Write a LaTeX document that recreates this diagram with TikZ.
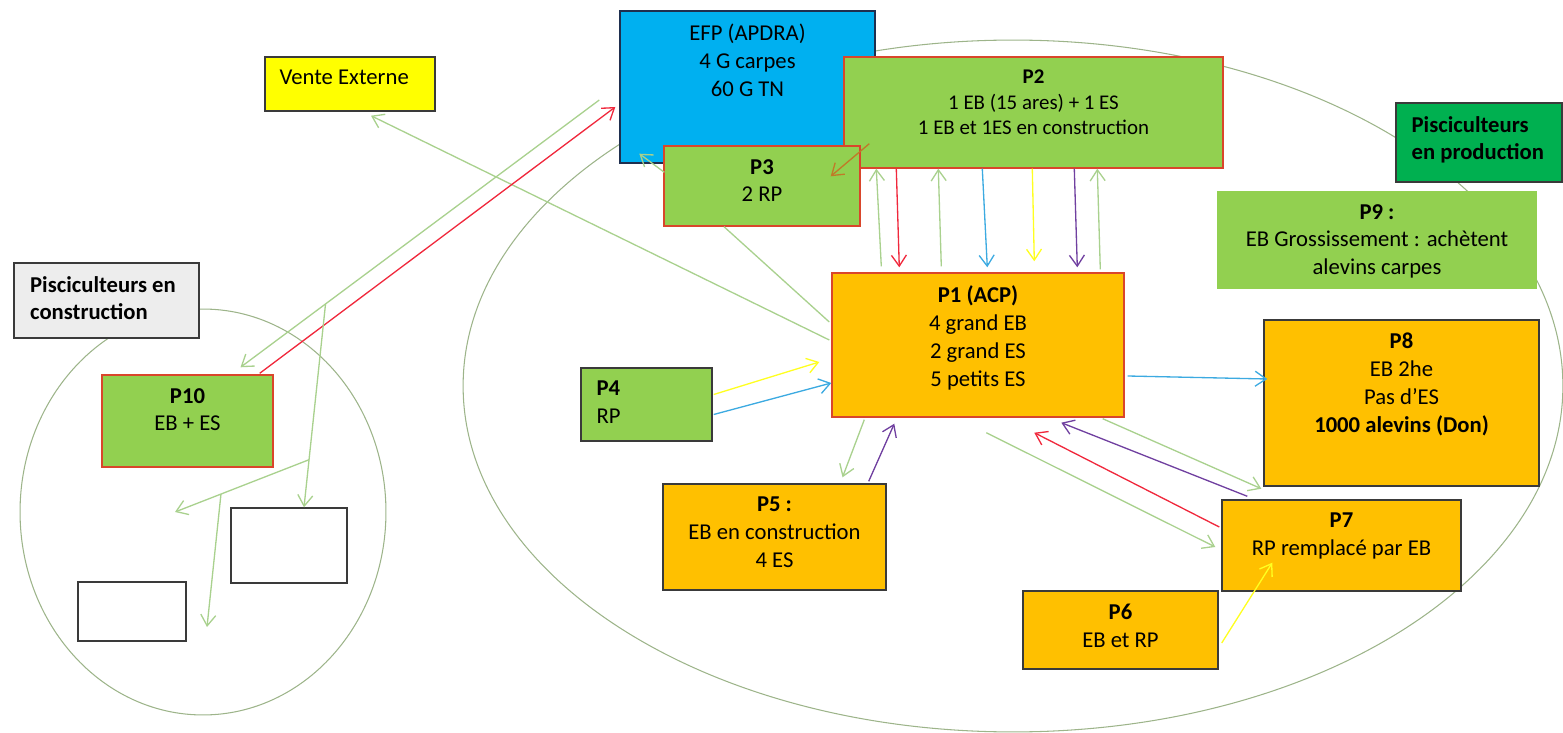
\documentclass[tikz,border=0pt]{standalone}
\usepackage{fontspec}
\setmainfont{Carlito}
\usepackage{tikz}
\usetikzlibrary{positioning, fit, calc, arrows.meta}

\definecolor{boxgreen}{HTML}{92D050}
\definecolor{boxblue}{HTML}{00B0F0}
\definecolor{boxorange}{HTML}{FFC000}
\definecolor{boxdkgreen}{HTML}{00B050}
\definecolor{boxyellow}{HTML}{FFFF00}
\definecolor{boxgray}{HTML}{EDEDED}
\definecolor{edgered}{HTML}{D9462B}
\definecolor{edgedark}{HTML}{3A3A3A}
\definecolor{edgenavy}{HTML}{1F2F4F}
\definecolor{lgreen}{HTML}{A9D18E}
\definecolor{lred}{HTML}{F0283C}
\definecolor{lblue}{HTML}{3CAAE1}
\definecolor{lyellow}{HTML}{FFFF20}
\definecolor{lpurple}{HTML}{7040A0}
\definecolor{lbrown}{HTML}{C07A28}
\definecolor{zone}{HTML}{9DB48A}

\tikzstyle{box} = [rectangle, inner sep=0pt, line width=0.8pt, draw=edgedark]
\tikzstyle{gbox} = [box, draw=edgered, fill=boxgreen]
\tikzstyle{obox} = [box, fill=boxorange]
\tikzstyle{txt} = [align=center, inner sep=0pt, font=\fontsize{12.9}{15.9}\selectfont]
\tikzstyle{arrow} = [line width=0.75pt, ->, >={Straight Barb[length=2.2mm, width=3mm]}]
\tikzstyle{garrow} = [arrow, lgreen]
\tikzstyle{rarrow} = [arrow, lred]
\tikzstyle{barrow} = [arrow, lblue]
\tikzstyle{yarrow} = [arrow, lyellow]
\tikzstyle{parrow} = [arrow, lpurple]
\tikzstyle{brarrow} = [arrow, lbrown]
\tikzstyle{gline} = [line width=0.75pt, lgreen]
\def\ttop{0.27cm}

\begin{document}
\begin{tikzpicture}[x=0.02cm, y=-0.02cm]
\useasboundingbox (0,0) rectangle (1563,733);

% groups
\draw [zone, line width=0.6pt] (203,512) ellipse [x radius=3.66cm, y radius=4.06cm];
\draw [zone, line width=0.6pt] (1013,386) ellipse [x radius=11cm, y radius=6.92cm];

\node (vente) [box, fill=boxyellow, fit={(265,57) (435,111)}] {};
\node (efp) [box, draw=edgenavy, fill=boxblue, fit={(620,11) (875,163)}] {};
\node (p2) [gbox, fit={(844,57) (1223,168)}] {};
\node (p3) [gbox, fit={(664,146) (860,226)}] {};
\node (prod) [box, fill=boxdkgreen, fit={(1396,103) (1562,182)}] {};
\node (p9) [box, draw=none, fill=boxgreen, fit={(1217,191) (1537,289)}] {};
\node (constr) [box, fill=boxgray, fit={(14,263) (199,338)}] {};
\node (p10) [gbox, fit={(102,375) (273,467)}] {};
\node (cnew1) [box, fill=white, fit={(231,508) (347,583)}] {};
\node (cnew2) [box, fill=white, fit={(78,582) (186,641)}] {};
\node (p4) [gbox, draw=edgedark, fit={(581,368) (712,441)}] {};
\node (p1) [obox, draw=edgered, fit={(832,273) (1124,417)}] {};
\node (p8) [obox, fit={(1264,320) (1539,486)}] {};
\node (p5) [obox, fit={(663,484) (886,590)}] {};
\node (p7) [obox, fit={(1222,500) (1461,591)}] {};
\node (p6) [obox, fit={(1023,591) (1218,669)}] {};

\node (ventet) [txt, below right=\ttop and 0.3cm of vente.north west] {Vente Externe};
\node (efpt) [txt, below=\ttop of efp.north] {EFP (APDRA)\\4 G carpes\\60 G TN};
\node (p2t) [txt, font=\fontsize{11.9}{14.5}\selectfont, below=\ttop of p2.north] {\textbf{P2}\\1 EB (15 ares) + 1 ES\\1 EB et 1ES en construction};
\node (p3t) [txt, below=\ttop of p3.north] {\textbf{P3}\\2 RP};
\node (prodt) [txt, align=left, below right=\ttop and 0.32cm of prod.north west] {\textbf{Pisciculteurs}\\\textbf{en production}};
\node (p9t) [txt, below=\ttop of p9.north] {\textbf{P9 :}\\EB Grossissement : achètent\\alevins carpes};
\node (constrt) [txt, align=left, below right=\ttop and 0.33cm of constr.north west] {\textbf{Pisciculteurs en}\\\textbf{construction}};
\node (p10t) [txt, below=\ttop of p10.north] {\textbf{P10}\\EB + ES};
\node (p4t) [txt, align=left, below right=\ttop and 0.32cm of p4.north west] {\textbf{P4}\\RP};
\node (p1t) [txt, below=\ttop of p1.north] {\textbf{P1 (ACP)}\\4 grand EB\\2 grand ES\\5 petits ES};
\node (p8t) [txt, below=\ttop of p8.north] {\textbf{P8}\\EB 2he\\Pas d’ES\\\textbf{1000 alevins (Don)}};
\node (p5t) [txt, below=\ttop of p5.north] {\textbf{P5 :}\\EB en construction\\4 ES};
\node (p7t) [txt, below=\ttop of p7.north] {\textbf{P7}\\RP remplacé par EB};
\node (p6t) [txt, below=\ttop of p6.north] {\textbf{P6}\\EB et RP};

% P2 / P1
\draw [garrow] ($(p1.north west)+(50,-6)$) -- ($(p2.south west)+(33,0)$);
\draw [rarrow] ($(p2.south west)+(53,0)$) -- ($(p1.north west)+(68,-5)$);
\draw [garrow] ($(p1.north west)+(110,-6)$) -- ($(p2.south west)+(95,0)$);
\draw [barrow] ($(p2.south west)+(139,0)$) -- ($(p1.north west)+(156,-5)$);
\draw [yarrow] ($(p2.south west)+(189,0)$) -- ($(p1.north west)+(203,-11)$);
\draw [parrow] ($(p2.south west)+(231,0)$) -- ($(p1.north west)+(246,-5)$);
\draw [garrow] ($(p1.north west)+(269,-3)$) -- ($(p2.south west)+(254,0)$);

\draw [brarrow] ($(p2.south west)+(26,-25)$) -- ($(p3.north east)+(-30,31)$);
\draw [garrow] ($(p3.north west)+(1,27)$) -- ($(efp.south west)+(20,-10)$);
\draw [gline] ($(p3.south)+(-38,0)$) -- ($(p1.west)+(-2,-23)$);
\draw [garrow] ($(p1.west)+(-2,-5)$) -- ($(vente.south)+(21,4)$);

% EFP / P10
\draw [rarrow] ($(p10.north east)+(-14,-1)$) -- ($(efp.west)+(-4,20)$);
\draw [garrow] ($(efp.west)+(-20,13)$) -- coordinate[pos=0.763] (br1) ($(p10.north)+(53,-7)$);
\coordinate (t1) at (175,512);
\coordinate (t2) at (207,627);
\draw [garrow] (br1) -- coordinate[pos=0.766] (br2) ($(cnew1.north)+(15,0)$);
\draw [garrow] (br2) -- coordinate[pos=0.657] (br3) (t1);
\draw [garrow] (br3) -- (t2);

\draw [yarrow] ($(p4.east)+(1,-10)$) -- ($(p1.west)+(-12,17)$);
\draw [barrow] ($(p4.east)+(1,10)$) -- ($(p1.west)+(0,38)$);
\draw [garrow] ($(p1.south west)+(33,2)$) -- ($(p5.north)+(68,-6)$);
\draw [parrow] ($(p5.north east)+(-18,-2)$) -- ($(p1.south west)+(63,6)$);

\draw [barrow] ($(p1.east)+(3,31)$) -- ($(p8.west)+(4,-24)$);
\draw [garrow] ($(p1.south east)+(-22,1)$) -- ($(p8.south west)+(-2,2)$);
\draw [parrow] ($(p7.north west)+(26,-3)$) -- ($(p1.south west)+(230,5)$);
\draw [rarrow] ($(p7.west)+(-2,-18.5)$) -- ($(p1.south west)+(203,15)$);
\draw [garrow] ($(p1.south west)+(155,15)$) -- ($(p7.west)+(-6,1.5)$);
\draw [yarrow] ($(p6.east)+(3,13)$) -- ($(p7.south west)+(51,-29)$);

\end{tikzpicture}
\end{document}
